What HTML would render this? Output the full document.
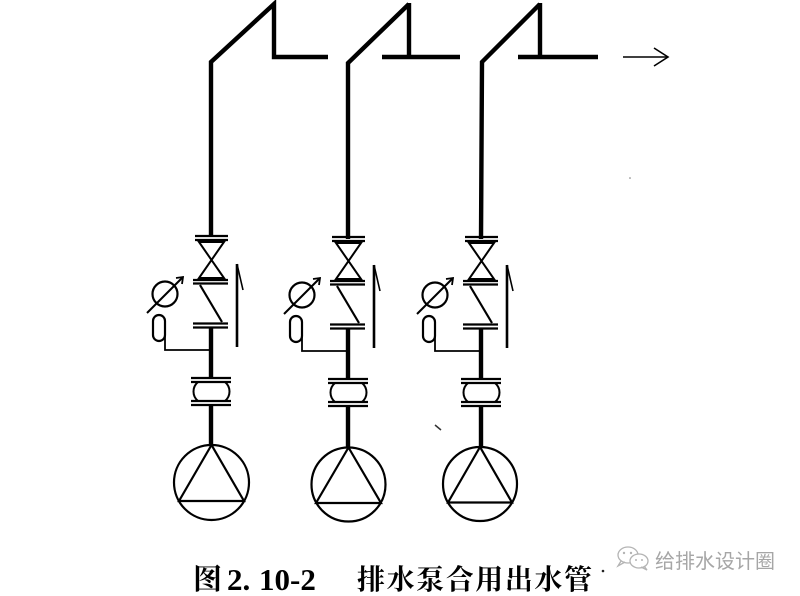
<!DOCTYPE html>
<html>
<head>
<meta charset="utf-8">
<style>
  html,body{margin:0;padding:0;background:#fff;}
  body{width:800px;height:596px;overflow:hidden;}
  svg{display:block;}
</style>
</head>
<body>
<svg width="800" height="596" viewBox="0 0 800 596" xmlns="http://www.w3.org/2000/svg">
  <rect width="800" height="596" fill="#fff"/>

  <!-- Top pipework -->
  <g fill="none" stroke="#000" stroke-width="4.4" stroke-linejoin="miter" stroke-linecap="butt">
    <!-- unit 1 -->
    <polyline points="211,236 211,62 274,4 274,57 328,57"/>
    <!-- unit 2 -->
    <polyline points="348,239 348,63 409,4"/>
    <line x1="409" y1="3" x2="409" y2="57"/>
    <line x1="382" y1="57" x2="460" y2="57"/>
    <!-- unit 3 -->
    <polyline points="481,239 482,62 540,4"/>
    <line x1="540" y1="3" x2="540" y2="57"/>
    <line x1="518" y1="57" x2="598" y2="57"/>
  </g>
  <!-- outlet arrow -->
  <g fill="none" stroke="#000" stroke-width="1.6">
    <line x1="623" y1="57" x2="668" y2="57"/>
    <polyline points="654,48 668,57 654,66"/>
  </g>

  <!-- Valve group definition -->
  <defs>
    <g id="grp">
      <g stroke="#000" stroke-width="2.3" fill="none">
        <!-- flange A -->
        <line x1="-16" y1="236" x2="17" y2="236"/>
        <line x1="-16" y1="240" x2="17" y2="240"/>
        <!-- gate valve bowtie -->
        <path d="M-12,242 L13,242 L-12,278 L13,278 Z" stroke-width="2"/>
        <!-- flange B -->
        <line x1="-18" y1="280" x2="17" y2="280"/>
        <line x1="-18" y1="283.5" x2="17" y2="283.5"/>
        <!-- check valve -->
        <line x1="-11" y1="285" x2="11" y2="322" stroke-width="2.2"/>
        <!-- flange C -->
        <line x1="-18" y1="323.5" x2="17" y2="323.5"/>
        <line x1="-18" y1="327.5" x2="17" y2="327.5"/>
        <!-- flange D -->
        <line x1="-20" y1="378" x2="20" y2="378"/>
        <line x1="-20" y1="382" x2="20" y2="382"/>
        <!-- flex body -->
        <path d="M-13,382 C-19,387 -19,396 -13,401 M14,382 C20,387 20,396 14,401" stroke-width="2"/>
        <!-- flange E -->
        <line x1="-20" y1="401" x2="20" y2="401"/>
        <line x1="-20" y1="405" x2="20" y2="405"/>
      </g>
      <!-- main pipe segments -->
      <g stroke="#000" stroke-width="4.4">
        <line x1="0" y1="327" x2="0" y2="378"/>
        <line x1="0" y1="405" x2="0" y2="446"/>
      </g>
      <!-- gauge -->
      <g stroke="#000" fill="none">
        <circle cx="-46" cy="294" r="12.5" stroke-width="2.2"/>
        <line x1="-64" y1="313" x2="-28" y2="277" stroke-width="2"/>
        <polyline points="-35,278 -28,277 -29,284" stroke-width="1.8"/>
        <rect x="-58" y="315" width="12" height="26" rx="6" ry="6" stroke-width="2.2"/>
        <polyline points="-46,330 -46,350 0,350" stroke-width="1.8"/>
      </g>
      <!-- flow direction arrow -->
      <g stroke="#000" fill="none">
        <line x1="26" y1="264" x2="26" y2="347" stroke-width="2.6"/>
        <line x1="26" y1="264" x2="32" y2="290" stroke-width="1.6"/>
      </g>
    </g>
  </defs>

  <use href="#grp" x="211" y="0"/>
  <use href="#grp" x="348" y="1"/>
  <use href="#grp" x="481" y="1"/>

  <!-- Pumps -->
  <g fill="none" stroke="#000" stroke-width="2.2">
    <circle cx="211.5" cy="482.5" r="37.5"/>
    <polygon points="211.5,445 179,501 244,501"/>
    <circle cx="348.5" cy="484.5" r="37"/>
    <polygon points="348.5,447.5 316,503 381,503"/>
    <circle cx="480" cy="484" r="37"/>
    <polygon points="480,447 448,502.5 512,502.5"/>
  </g>

  <!-- stray marks -->
  <line x1="435" y1="425" x2="441" y2="430" stroke="#333" stroke-width="1.5"/>
  <circle cx="630" cy="178" r="0.8" fill="#777"/>
  <circle cx="603" cy="571" r="1.3" fill="#222"/>

  <!-- Caption -->
  <g fill="#000">
    <text x="193" y="589" font-family="'Noto Serif CJK SC','Liberation Serif',serif" font-size="29" font-weight="700">图</text>
    <text x="227" y="590" font-family="'Liberation Serif',serif" font-size="31" font-weight="700">2.</text>
    <text x="259" y="590" font-family="'Liberation Serif',serif" font-size="31" font-weight="700">10-2</text>
    <text x="357" y="589" font-family="'Noto Serif CJK SC','Liberation Serif',serif" font-size="28" font-weight="700" textLength="235" lengthAdjust="spacing">排水泵合用出水管</text>
  </g>

  <!-- Watermark -->
  <g fill="none" stroke="#b4b4b4" stroke-width="1.3">
    <ellipse cx="628" cy="555" rx="10" ry="8"/>
    <path d="M621,561 L618,566 L625,562"/>
    <ellipse cx="639" cy="561" rx="9" ry="7" fill="#fff"/>
    <path d="M644,566 L647,570 L641,567"/>
  </g>
  <g fill="#b4b4b4">
    <circle cx="624" cy="553" r="1.2"/>
    <circle cx="631" cy="553" r="1.2"/>
    <circle cx="636" cy="560" r="1"/>
    <circle cx="642" cy="560" r="1"/>
  </g>
  <text x="655" y="568" font-family="'Liberation Sans','Noto Sans CJK SC',sans-serif" font-size="20" fill="#a6a6a6">给排水设计圈</text>
</svg>
</body>
</html>
